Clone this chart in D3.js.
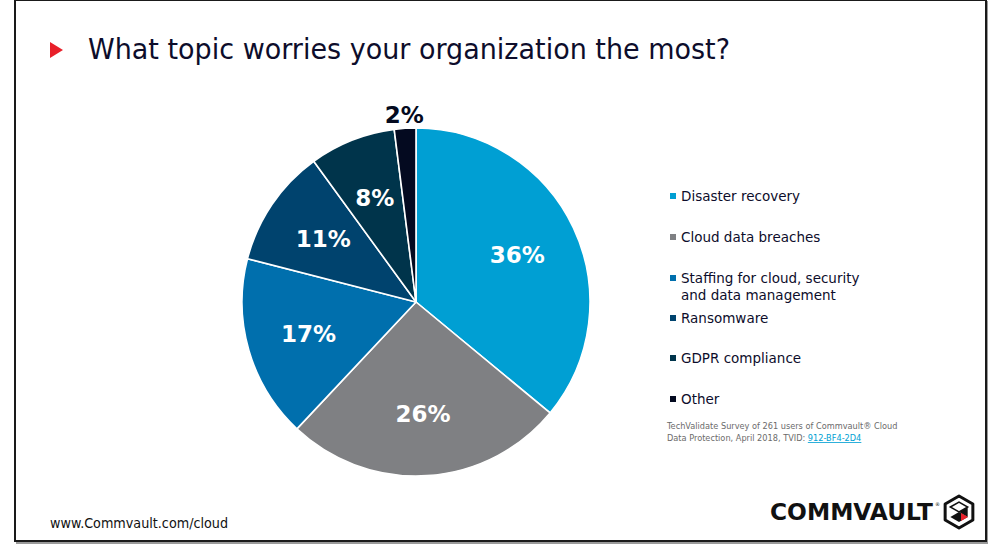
<!DOCTYPE html>
<html>
<head>
<meta charset="utf-8">
<script src="https://cdn.jsdelivr.net/npm/d3@7"></script>
<style>
  html, body { margin: 0; padding: 0; background: #fff; }
  svg { display: block; }
</style>
</head>
<body>
<script>
const categories = ["Disaster recovery", "Cloud data breaches", "Staffing for cloud, security|and data management", "Ransomware", "GDPR compliance", "Other"];
const values = [36, 26, 17, 11, 8, 2];
const colors = ["#009fd3", "#7f8083", "#006fad", "#00436e", "#00344b", "#040a20"];
const titleText = "What topic worries your organization the most?";
const footnoteLines = ["TechValidate Survey of 261 users of Commvault\u00ae Cloud", "Data Protection, April 2018, TVID: "];
const tvid = "912-BF4-2D4";
const urlText = "www.Commvault.com/cloud";

const W = 1000, H = 559;
const svg = d3.select("body").append("svg").attr("width", W).attr("height", H);

// frame with shadow
svg.append("rect").attr("x", 17).attr("y", 2).attr("width", 970).attr("height", 541)
  .attr("fill", "none").attr("stroke", "#9a9a9a").attr("stroke-width", 2);
svg.append("rect").attr("x", 15).attr("y", 0).attr("width", 971).attr("height", 541)
  .attr("fill", "#fff").attr("stroke", "#1a1a1a").attr("stroke-width", 2);

// title
svg.append("path").attr("d", "M50,42 L63,50 L50,58 Z").attr("fill", "#e8202a");
svg.append("text").attr("x", 88).attr("y", 59)
  .attr("font-family", "DejaVu Sans, Verdana, sans-serif").attr("font-size", 28)
  .attr("fill", "#0d0d2b")
  .attr("textLength", 642).attr("lengthAdjust", "spacingAndGlyphs")
  .text(titleText);

// pie
const cx = 416, cy = 302, R = 174;
const pie = d3.pie().sort(null).value(d => d)(values);
const arc = d3.arc().innerRadius(0).outerRadius(R);
const labelArc = d3.arc().innerRadius(112).outerRadius(112);
const outerLabelArc = d3.arc().innerRadius(R + 14).outerRadius(R + 14);
const g = svg.append("g").attr("transform", `translate(${cx},${cy})`);
g.selectAll("path.slice").data(pie).join("path").attr("class", "slice")
  .attr("d", arc).attr("fill", (d, i) => colors[i])
  .attr("stroke", "#fff").attr("stroke-width", 1.6).attr("stroke-linejoin", "round");
g.selectAll("text.lbl").data(pie).join("text").attr("class", "lbl")
  .attr("transform", d => {
    const small = d.data < 5;
    const p = small ? outerLabelArc.centroid(d) : labelArc.centroid(d);
    return `translate(${p[0]},${p[1]})`;
  })
  .attr("text-anchor", "middle").attr("dy", "0.36em")
  .attr("font-family", "DejaVu Sans, Verdana, sans-serif").attr("font-weight", "bold")
  .attr("font-size", 23)
  .attr("fill", d => d.data < 5 ? "#040a20" : "#fff")
  .text(d => d.data + "%");

// legend
const legendY = [196, 237, 278, 318, 358, 399];
const lg = svg.append("g");
categories.forEach((c, i) => {
  lg.append("rect").attr("x", 670).attr("y", legendY[i] - 3).attr("width", 6).attr("height", 6).attr("fill", colors[i]);
  const lines = c.split("|");
  lines.forEach((ln, j) => {
    lg.append("text").attr("x", 681).attr("y", legendY[i] + 5 + j * 17)
      .attr("font-family", "DejaVu Sans, Verdana, sans-serif").attr("font-size", 13.5)
      .attr("fill", "#0d0d2b").text(ln);
  });
});

// footnote
const fn = svg.append("g").attr("font-family", "DejaVu Sans, Verdana, sans-serif").attr("font-size", 8.2).attr("fill", "#6b6b6b");
fn.append("text").attr("x", 667).attr("y", 429).text(footnoteLines[0]);
const t2 = fn.append("text").attr("x", 667).attr("y", 441);
t2.append("tspan").text(footnoteLines[1]);
t2.append("tspan").attr("fill", "#009fd3").attr("text-decoration", "underline").text(tvid);

// url
svg.append("text").attr("x", 50).attr("y", 528)
  .attr("font-family", "DejaVu Sans, Verdana, sans-serif").attr("font-size", 14)
  .attr("fill", "#111").attr("textLength", 178).attr("lengthAdjust", "spacingAndGlyphs")
  .text(urlText);

// logo
svg.append("text").attr("x", 770).attr("y", 520)
  .attr("font-family", "DejaVu Sans, Arial, sans-serif").attr("font-weight", "bold").attr("font-size", 23)
  .attr("fill", "#111").attr("textLength", 163).attr("lengthAdjust", "spacingAndGlyphs")
  .text("COMMVAULT");
svg.append("text").attr("x", 935).attr("y", 506).attr("font-family", "DejaVu Sans, sans-serif").attr("font-size", 5).attr("fill", "#111").text("\u00ae");
const lcx = 959, lcy = 512, lr = 16;
const hex = d3.range(6).map(k => { const a = Math.PI / 3 * k - Math.PI / 2; return [lcx + lr * Math.cos(a), lcy + lr * Math.sin(a)]; });
svg.append("polygon").attr("points", hex.map(p => p.join(",")).join(" "))
  .attr("fill", "#fff").attr("stroke", "#111").attr("stroke-width", 3).attr("stroke-linejoin", "round");
const ir = 10;
const ih = d3.range(6).map(k => { const a = Math.PI / 3 * k - Math.PI / 2; return [lcx + ir * Math.cos(a), lcy + ir * Math.sin(a)]; });
svg.append("polygon").attr("points", [ih[4], [lcx, lcy], ih[2], ih[3]].map(p => p.join(",")).join(" ")).attr("fill", "#111");
svg.append("polygon").attr("points", [[lcx, lcy], ih[1], ih[2]].map(p => p.join(",")).join(" ")).attr("fill", "#111");
svg.append("polygon").attr("points", [ih[5], ih[0], ih[1], [lcx, lcy]].map(p => p.join(",")).join(" "))
  .attr("fill", "#fff").attr("stroke", "#111").attr("stroke-width", 1.5);
svg.append("path").attr("d", `M${lcx + 2},${lcy + 1} L${lcx + 9},${lcy + 5} L${lcx + 2},${lcy + 9} Z`).attr("fill", "#e8202a");
</script>
</body>
</html>
